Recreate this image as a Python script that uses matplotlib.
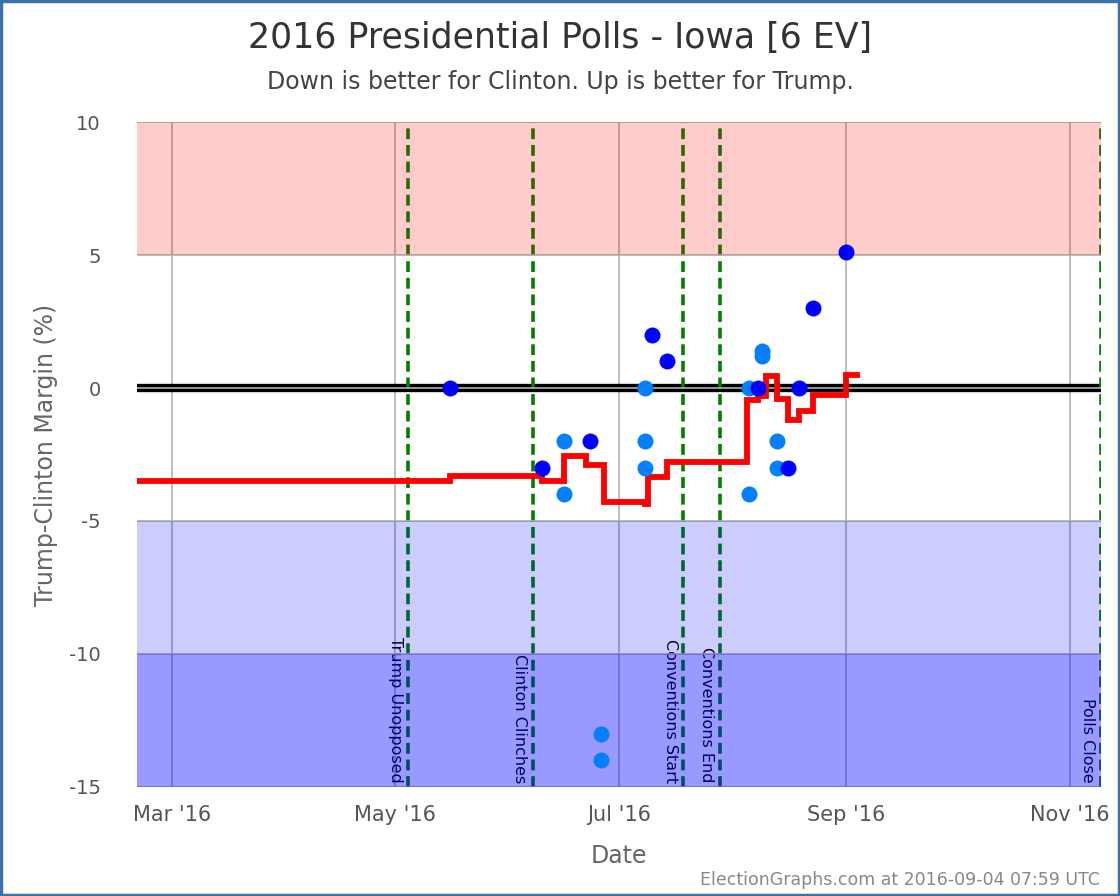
import matplotlib
matplotlib.use("Agg")
import matplotlib.pyplot as plt
from matplotlib.patches import Rectangle
import pandas as pd

plt.rcParams['axes.unicode_minus'] = False

# polls (date, Trump-Clinton margin)
dark_dates = ["2016-05-16 00:00", "2016-06-10 00:00", "2016-06-23 00:00", "2016-07-10 00:00",
              "2016-07-14 00:00", "2016-08-08 00:00", "2016-08-16 00:00", "2016-08-19 00:00",
              "2016-08-23 00:00", "2016-09-01 00:00"]
dark_vals = [0, -3, -2, 2, 1, 0, -3, 0, 3, 5.1]

light_dates = ["2016-06-16 00:00", "2016-06-16 00:00", "2016-06-26 00:00", "2016-06-26 00:00",
               "2016-07-08 00:00", "2016-07-08 00:00", "2016-07-08 00:00",
               "2016-08-05 12:00", "2016-08-05 12:00", "2016-08-09 00:00", "2016-08-09 00:00",
               "2016-08-13 00:00", "2016-08-13 00:00"]
light_vals = [-2, -4, -13, -14, 0, -2, -3, 0, -4, 1.4, 1.2, -2, -3]

# running average (step line)
avg_dates = ["2016-02-20", "2016-05-16", "2016-06-10", "2016-06-16", "2016-06-22",
             "2016-06-27", "2016-07-08", "2016-07-09", "2016-07-14", "2016-08-05",
             "2016-08-08", "2016-08-10", "2016-08-13", "2016-08-16", "2016-08-19",
             "2016-08-23", "2016-09-01", "2016-09-04"]
avg_vals = [-3.5, -3.3, -3.5, -2.55, -2.9, -4.3, -4.35, -3.35, -2.8, -0.45,
            -0.3, 0.45, -0.4, -1.2, -0.85, -0.25, 0.5, 0.5]

events = ["Trump Unopposed", "Clinton Clinches", "Conventions Start", "Conventions End", "Polls Close"]
event_dates = ["2016-05-04 12:00", "2016-06-07 12:00", "2016-07-18 12:00", "2016-07-28 12:00",
               "2016-11-09 12:00"]

month_ticks = ["2016-03-01", "2016-05-01", "2016-07-01", "2016-09-01", "2016-11-01"]
month_labels = ["Mar '16", "May '16", "Jul '16", "Sep '16", "Nov '16"]

fam = ["DejaVu Sans"]

fig = plt.figure(figsize=(11.2, 8.96), dpi=100)
ax = fig.add_axes([0.1223, 0.1217, 0.8607, 0.7421])

x0 = pd.Timestamp("2016-02-20 12:00")
x1 = pd.Timestamp("2016-11-09 12:00")

# grid under the bands
for t in month_ticks:
    ax.axvline(pd.Timestamp(t), color="#b0b0b0", lw=1.2, zorder=1)
for v in [-15, -10, -5, 0, 5, 10]:
    ax.axhline(v, color="#b0b0b0", lw=1.2, zorder=1.5)

ax.axhline(0, color="black", lw=6, zorder=1.2)

# event lines and labels
for name, d in zip(events, event_dates):
    d = pd.Timestamp(d)
    ax.axvline(d, color="#008000", lw=2.6, ls=(0, (3, 1.6)), zorder=1.3)
    ax.annotate(name, (d, -15), xytext=(-4, 3), textcoords="offset points",
                rotation=-90, ha="right", va="bottom", fontsize=11.5,
                color="black", family=fam, zorder=1.4)

# bands
ax.axhspan(5, 10, color="#ff0000", alpha=0.2, lw=0, zorder=2)
ax.axhspan(-10, -5, color="#0000ff", alpha=0.2, lw=0, zorder=2)
ax.axhspan(-15, -10, color="#0000ff", alpha=0.4, lw=0, zorder=2)

ax.step(pd.to_datetime(avg_dates), avg_vals, where="post", color="red", lw=4.2,
        solid_joinstyle="miter", zorder=3)

ax.plot(pd.to_datetime(light_dates), light_vals, "o", color="#0080ff", ms=11.5,
        mec="none", zorder=4)
ax.plot(pd.to_datetime(dark_dates), dark_vals, "o", color="#0000ff", ms=11.5,
        mec="none", zorder=4)

ax.set_xlim(x0, x1)
ax.set_ylim(-15, 10)
ax.set_yticks([-15, -10, -5, 0, 5, 10])
ax.set_xticks(pd.to_datetime(month_ticks))
ax.set_xticklabels(month_labels, family=fam, fontsize=15, color="#555555")
for lab in ax.get_yticklabels():
    lab.set_fontsize(14)
    lab.set_color("#555555")
ax.tick_params(axis="y", length=0, pad=26)
ax.tick_params(axis="x", length=0, pad=13)
for s in ax.spines.values():
    s.set_visible(False)

ax.set_xlabel("Date", family=fam, fontsize=17, color="#666666", labelpad=14)
ax.set_ylabel("Trump-Clinton Margin (%)", family=fam, fontsize=17, color="#666666", labelpad=8)

fig.text(0.5, 0.958, "2016 Presidential Polls - Iowa [6 EV]", ha="center", va="center",
         fontsize=25, color="#333333", family=fam)
fig.text(0.5, 0.909, "Down is better for Clinton. Up is better for Trump.", ha="center",
         va="center", fontsize=17, color="#444444", family=fam)
fig.text(0.982, 0.008, "ElectionGraphs.com at 2016-09-04 07:59 UTC", ha="right", va="bottom",
         fontsize=12.5, color="#888888", family=fam)

fig.patches.append(Rectangle((0.001, 0.001), 0.998, 0.998, transform=fig.transFigure,
                             fill=False, edgecolor="#3f6fa8", lw=2.5))

fig.savefig("out.png", dpi=100)
